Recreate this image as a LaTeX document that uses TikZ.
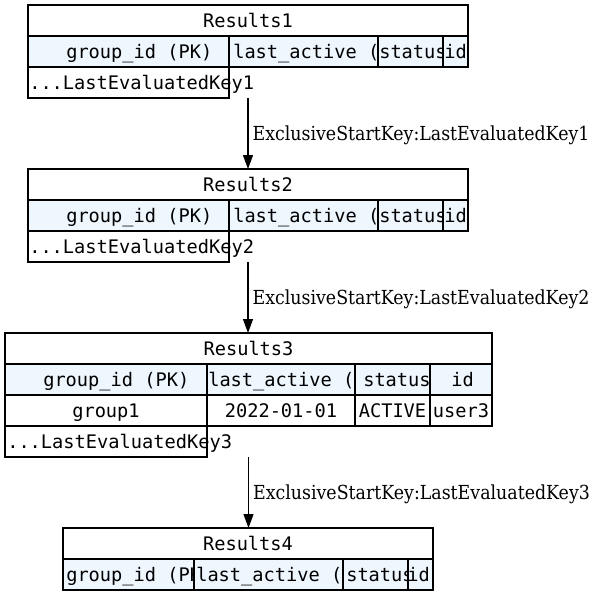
\documentclass[tikz,border=0pt]{standalone}
\usepackage{fontspec}
\usepackage{xcolor}
\usetikzlibrary{positioning, arrows.meta, fit}
\newfontfamily\cellfont{DejaVu Sans Mono}
\newfontfamily\flowfont[FakeStretch=0.9]{DejaVu Serif}
\definecolor{colfill}{HTML}{EEF6FE}

% one table cell: name, fill, x1, y1, x2, y2, text start, text
\newcommand{\tcell}[8]{%
  \node[cellbox, fill=#2, fit={(#3,#4) (#5,#6)}] (#1) {};
  \node[celltext, anchor=west] (#1t) at (#7,{(#4+#6)/2}) {#8};}
% same, text centred in the cell
\newcommand{\ccell}[7]{%
  \node[cellbox, fill=#2, fit={(#3,#4) (#5,#6)}] (#1) {};
  \node[celltext] (#1t) at (#1.center) {#7};}

\begin{document}
\begin{tikzpicture}[
      x=0.75pt, y=-0.75pt,
      cellbox/.style={draw, line width=0.9pt, inner sep=0pt, outer sep=0pt},
      celltext/.style={font=\cellfont\fontsize{14pt}{17pt}\selectfont,
      inner sep=0pt, text height=11.2pt, text depth=0pt},
      tblbox/.style={inner sep=0pt, outer sep=0pt},
      flow/.style={-{Triangle[length=10.5pt, width=7.5pt]}, line width=0.9pt},
      flowlbl/.style={font=\flowfont\fontsize{14.5pt}{17pt}\selectfont,
      anchor=west, inner xsep=3pt, inner ysep=0pt, text height=10.6pt,
      text depth=0pt}
    ]
    \useasboundingbox (0,0) rectangle (599,596);

    % Results1
    \ccell{r1h}{white}{28}{5}{468}{36}{Results1}
    \tcell{r1a}{colfill}{28}{36}{229}{67}{66}{group\_id (PK)}
    \tcell{r1b}{colfill}{229}{36}{378}{67}{233}{last\_active (}
    \tcell{r1c}{colfill}{378}{36}{443}{67}{379}{status}
    \tcell{r1d}{colfill}{443}{36}{468}{67}{444}{id}
    \tcell{r1k}{white}{28}{67}{229}{98}{29}{...LastEvaluatedKey1}
    \node[tblbox, fit=(r1h)(r1k)] (res1) {};

    % Results2
    \ccell{r2h}{white}{28}{169}{468}{200}{Results2}
    \tcell{r2a}{colfill}{28}{200}{229}{231}{66}{group\_id (PK)}
    \tcell{r2b}{colfill}{229}{200}{378}{231}{233}{last\_active (}
    \tcell{r2c}{colfill}{378}{200}{443}{231}{379}{status}
    \tcell{r2d}{colfill}{443}{200}{468}{231}{444}{id}
    \tcell{r2k}{white}{28}{231}{229}{262}{29}{...LastEvaluatedKey2}
    \node[tblbox, fit=(r2h)(r2k)] (res2) {};

    % Results3
    \ccell{r3h}{white}{5}{333}{492}{364}{Results3}
    \tcell{r3a}{colfill}{5}{364}{207}{395}{43}{group\_id (PK)}
    \tcell{r3b}{colfill}{207}{364}{355}{395}{208}{last\_active (}
    \tcell{r3c}{colfill}{355}{364}{430}{395}{363}{status}
    \tcell{r3d}{colfill}{430}{364}{492}{395}{451}{id}
    \ccell{r3e}{white}{5}{395}{207}{426}{group1}
    \ccell{r3f}{white}{207}{395}{355}{426}{2022-01-01}
    \ccell{r3g}{white}{355}{395}{430}{426}{ACTIVE}
    \ccell{r3i}{white}{430}{395}{492}{426}{user3}
    \tcell{r3k}{white}{5}{426}{207}{457}{7}{...LastEvaluatedKey3}
    \node[tblbox, fit=(r3h)(r3k)] (res3) {};

    % Results4
    \ccell{r4h}{white}{63}{528}{433}{559}{Results4}
    \tcell{r4a}{colfill}{63}{559}{194}{590}{66}{group\_id (PK)}
    \tcell{r4b}{colfill}{194}{559}{343}{590}{196}{last\_active (}
    \tcell{r4c}{colfill}{343}{559}{408}{590}{346}{status}
    \tcell{r4d}{colfill}{408}{559}{433}{590}{407}{id}
    \node[tblbox, fit=(r4h)(r4d)] (res4) {};

    \draw[flow] (res1.south) -- node[flowlbl]
    {ExclusiveStartKey:LastEvaluatedKey1} (res1.south |- res2.north);
    \draw[flow] (res2.south) -- node[flowlbl]
    {ExclusiveStartKey:LastEvaluatedKey2} (res2.south |- res3.north);
    \draw[flow] (res3.south) -- node[flowlbl]
    {ExclusiveStartKey:LastEvaluatedKey3} (res3.south |- res4.north);
  \end{tikzpicture}
\end{document}
